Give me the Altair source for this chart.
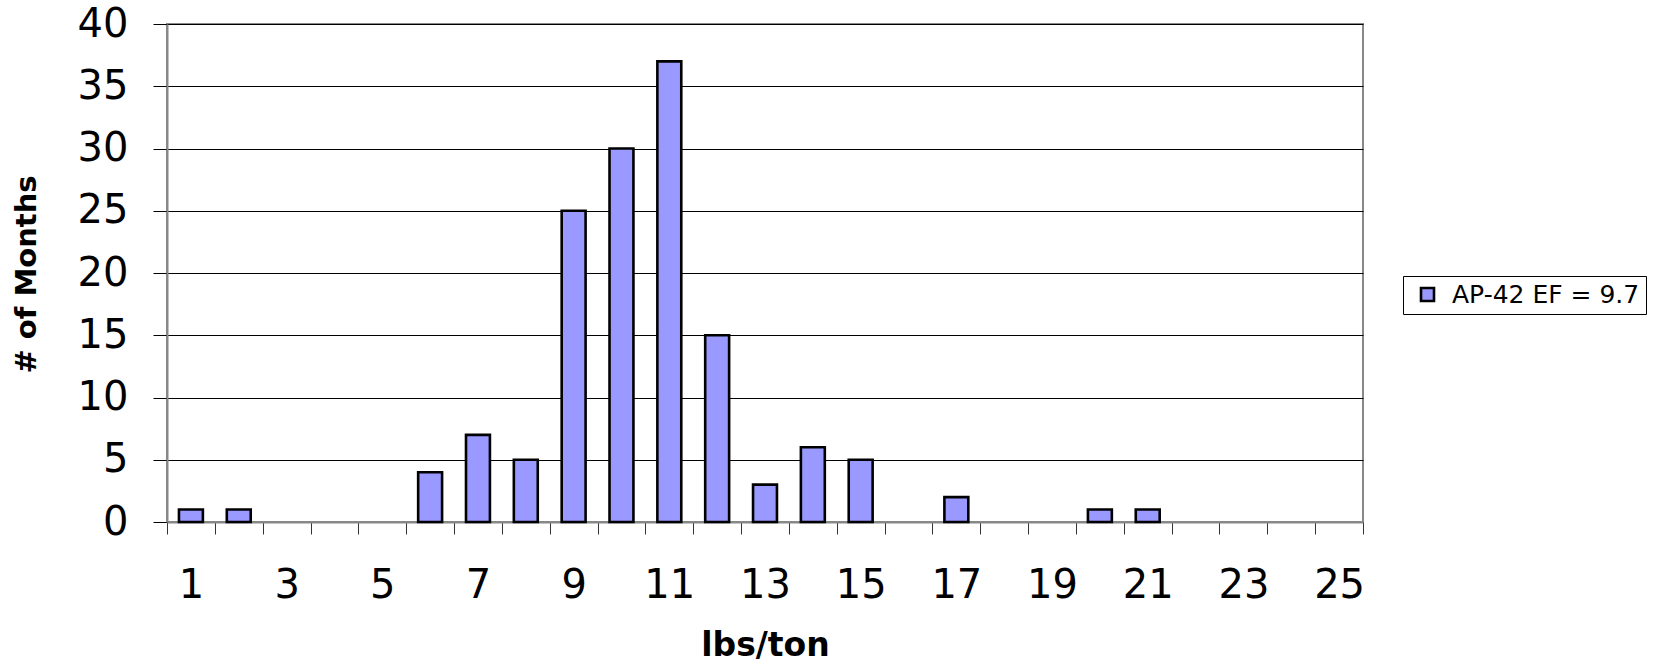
import altair as alt
import pandas as pd

# Monthly emission-factor histogram
lbs_per_ton = list(range(1, 26))
months = [1, 1, 0, 0, 0, 4, 7, 5, 25, 30, 37, 15, 3, 6, 5, 0, 2, 0, 0, 1, 1, 0, 0, 0, 0]
series_name = "AP-42 EF = 9.7"

y_tick_values = [0, 5, 10, 15, 20, 25, 30, 35, 40]
# category boundaries carry the tick marks, integer positions carry the labels
x_tick_values = [v / 2 for v in range(1, 52)]

df = pd.DataFrame({"lbs": lbs_per_ton, "months": months, "series": series_name})

FONT = "DejaVu Sans"
FRAME = "#888888"

bars = (
    alt.Chart(df)
    .transform_filter("datum.months > 0")
    .transform_calculate(left="datum.lbs - 0.25", right="datum.lbs + 0.25")
    .mark_bar(stroke="black", strokeWidth=2.6)
    .encode(
        x=alt.X(
            "left:Q",
            scale=alt.Scale(domain=[0.5, 25.5], nice=False, zero=False),
            axis=alt.Axis(
                values=x_tick_values,
                grid=False,
                tickSize=12,
                tickColor="#333333",
                tickWidth=1,
                tickOpacity={"condition": {"test": "datum.value % 1 === 0", "value": 0}, "value": 1},
                domainColor=FRAME,
                domainWidth=2,
                labelExpr="datum.value % 2 === 1 ? '' + datum.value : ''",
                labelFont=FONT,
                labelFontSize=40,
                labelColor="black",
                labelBaseline="alphabetic",
                labelPadding=63,
                labelOverlap=False,
                labelFlush=False,
                title="lbs/ton",
                titleFont=FONT,
                titleFontSize=33,
                titleFontWeight="bold",
                titleColor="black",
                titleBaseline="alphabetic",
                titleX=598,
                titleY=133,
            ),
        ),
        x2="right:Q",
        y=alt.Y(
            "months:Q",
            scale=alt.Scale(domain=[0, 40], nice=False),
            axis=alt.Axis(
                values=y_tick_values,
                grid=True,
                gridColor="black",
                gridWidth=1,
                tickSize=14,
                tickColor="black",
                tickWidth=1,
                domainColor=FRAME,
                domainWidth=2,
                labelFont=FONT,
                labelFontSize=40,
                labelColor="black",
                labelPadding=25,
                title="# of Months",
                titleFont=FONT,
                titleFontSize=29,
                titleFontWeight="bold",
                titleColor="black",
                titleAngle=270,
                titleAlign="center",
                titleBaseline="alphabetic",
                titleX=-132,
                titleY=250,
            ),
        ),
        y2=alt.datum(0),
        color=alt.Color(
            "series:N",
            scale=alt.Scale(range=["#9999FF"]),
            legend=alt.Legend(
                title=None,
                orient="none",
                legendX=1236,
                legendY=252,
                strokeColor="black",
                fillColor="white",
                padding=6,
                symbolType="square",
                symbolSize=169,
                symbolStrokeColor="black",
                symbolStrokeWidth=2.6,
                symbolOffset=6,
                labelOffset=12,
                labelLimit=0,
                labelFont=FONT,
                labelFontSize=25,
                labelColor="black",
            ),
        ),
    )
)

chart = (
    bars.properties(
        width=1196,
        height=498,
        autosize=alt.AutoSizeParams(type="none"),
        padding={"left": 167, "top": 24, "right": 290, "bottom": 140},
        background="white",
    )
    .configure_view(stroke=FRAME, strokeWidth=2)
)

chart.save("out.html", embed_options={"renderer": "svg", "actions": False})
